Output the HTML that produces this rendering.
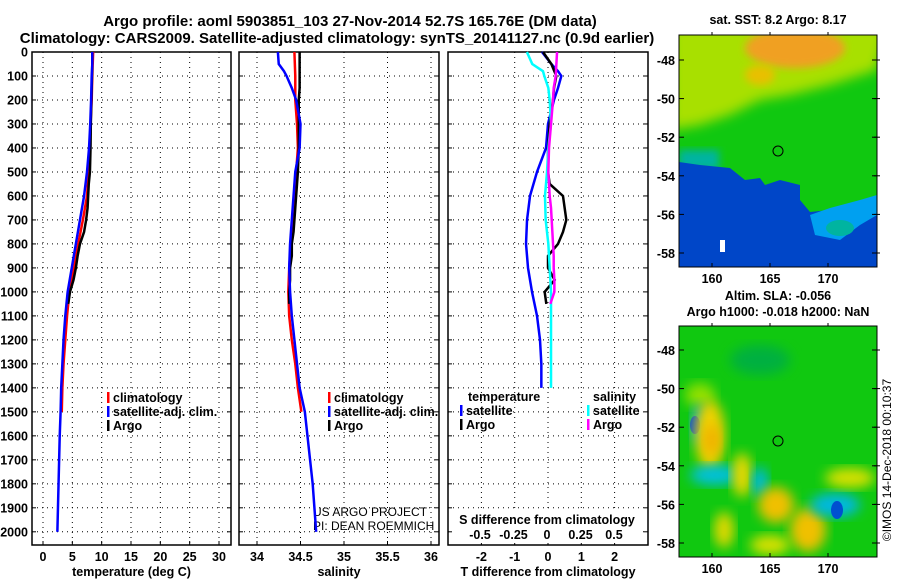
<!DOCTYPE html>
<html><head><meta charset="utf-8"><style>
body{margin:0;background:#fff}
svg{display:block;font-family:"Liberation Sans",sans-serif}
.t{font-weight:bold;font-size:12.5px}
.ti{font-weight:bold;font-size:15px}
.gr{stroke:#000;stroke-width:1;stroke-dasharray:1 4}
</style></head><body>
<svg id="c" width="900" height="580" viewBox="0 0 900 580">
<defs>
<filter id="bl" x="-20%" y="-20%" width="140%" height="140%"><feGaussianBlur stdDeviation="6"/></filter>
<filter id="bl2" x="-20%" y="-20%" width="140%" height="140%"><feGaussianBlur stdDeviation="4"/></filter>
<clipPath id="m1c"><rect x="679" y="35" width="198" height="232"/></clipPath>
<clipPath id="m2c"><rect x="679" y="326" width="198" height="231"/></clipPath>
</defs>
<text class="ti" x="350" y="26" text-anchor="middle">Argo profile: aoml 5903851_103 27-Nov-2014 52.7S 165.76E (DM data)</text>
<text class="ti" x="337" y="43" text-anchor="middle">Climatology: CARS2009. Satellite-adjusted climatology: synTS_20141127.nc (0.9d earlier)</text>

<!-- Map 1 -->
<g>
<g clip-path="url(#m1c)">
<rect x="679" y="35" width="198" height="232" fill="#10c810"/>
<polygon points="670,25 890,25 877,70 830,85 790,95 760,100 730,115 700,125 670,130" fill="#a8e000" filter="url(#bl)"/>
<ellipse cx="795" cy="48" rx="50" ry="20" fill="#f0a020" filter="url(#bl2)"/>
<ellipse cx="760" cy="75" rx="15" ry="10" fill="#e8c000" filter="url(#bl2)"/>
<rect x="679" y="150" width="40" height="20" fill="#00b4a0" filter="url(#bl2)"/>
<polygon points="679,162 700,165 730,168 745,180 760,178 765,185 780,180 800,185 800,200 810,212 830,210 860,205 877,195 877,267 679,267" fill="#0046c8"/>
<polygon points="810,215 830,208 860,200 877,195 877,215 860,225 840,240 815,235" fill="#00a0f0"/>
<ellipse cx="840" cy="228" rx="14" ry="8" fill="#00b4a0"/>
<rect x="720" y="240" width="5" height="12" fill="#fff"/>
<circle cx="778" cy="151" r="5" fill="none" stroke="#000"/>
</g>
<rect x="679" y="35" width="198" height="232" fill="none" stroke="#000"/>
</g>
<text class="t" x="778" y="24" text-anchor="middle" font-size="13">sat. SST: 8.2 Argo: 8.17</text>

<!-- Map 2 -->
<g>
<g clip-path="url(#m2c)">
<rect x="679" y="326" width="198" height="231" fill="#10c810"/>
<ellipse cx="760" cy="360" rx="30" ry="15" fill="#00b040" filter="url(#bl)"/>
<ellipse cx="700" cy="395" rx="15" ry="12" fill="#90e000" filter="url(#bl)"/>
<ellipse cx="700" cy="425" rx="8" ry="20" fill="#00a0f0" filter="url(#bl)"/>
<ellipse cx="695" cy="425" rx="5" ry="9" fill="#0050d0"/>
<ellipse cx="710" cy="435" rx="15" ry="35" fill="#f0d000" filter="url(#bl)"/>
<ellipse cx="712" cy="440" rx="8" ry="15" fill="#f0b000" filter="url(#bl)"/>
<ellipse cx="715" cy="475" rx="25" ry="10" fill="#00c0e0" filter="url(#bl)"/>
<ellipse cx="742" cy="475" rx="10" ry="22" fill="#e8d800" filter="url(#bl)"/>
<ellipse cx="760" cy="482" rx="8" ry="15" fill="#00b8e0" filter="url(#bl)"/>
<ellipse cx="776" cy="505" rx="18" ry="18" fill="#f0c000" filter="url(#bl)"/>
<ellipse cx="808" cy="530" rx="18" ry="22" fill="#f0c000" filter="url(#bl)"/>
<ellipse cx="835" cy="505" rx="25" ry="12" fill="#00b8e0" filter="url(#bl)"/>
<ellipse cx="837" cy="510" rx="6" ry="9" fill="#0050d0"/>
<ellipse cx="850" cy="478" rx="25" ry="10" fill="#d8e000" filter="url(#bl)"/>
<ellipse cx="724" cy="530" rx="10" ry="18" fill="#e0d800" filter="url(#bl)"/>
<ellipse cx="770" cy="545" rx="20" ry="10" fill="#d8e000" filter="url(#bl)"/>
<circle cx="778" cy="441" r="5" fill="none" stroke="#000"/>
</g>
<rect x="679" y="326" width="198" height="231" fill="none" stroke="#000"/>
</g>
<text class="t" x="778" y="300" text-anchor="middle" font-size="13">Altim. SLA: -0.056</text>
<text class="t" x="778" y="316" text-anchor="middle" font-size="13">Argo h1000: -0.018 h2000: NaN</text>
<text x="891" y="460" font-size="12" text-anchor="middle" transform="rotate(-90 891 460)">©IMOS 14-Dec-2018 00:10:37</text>
<text x="313" y="516" font-size="12">US ARGO PROJECT</text>
<text x="313" y="530" font-size="12">PI: DEAN ROEMMICH</text>
</svg>
<script>
const depthTicks=[0,100,200,300,400,500,600,700,800,900,1000,1100,1200,1300,1400,1500,1600,1700,1800,1900,2000];
const tempTicks=[0,5,10,15,20,25,30];
const salTicks=[34,34.5,35,35.5,36];
const tdTicks=[-2,-1,0,1,2];
const sdTicks=[-0.5,-0.25,0,0.25,0.5];
const sdTickLabels=["-0.5","-0.25","0","0.25","0.5"];
const argoDepth=[0,50,100,150,200,300,400,500,550,600,650,700,750,800,850,900,950,1000,1050];
const argoTemp=[8.4,8.4,8.35,8.3,8.25,8.15,8.1,8.0,7.8,7.7,7.6,7.35,7.0,6.3,5.9,5.6,5.2,4.6,4.3];
const argoSal=[34.49,34.49,34.49,34.49,34.48,34.48,34.48,34.47,34.46,34.45,34.44,34.43,34.42,34.4,34.4,34.38,34.38,34.37,34.37];
const argoTdiff=[-0.15,0.1,0.25,0.18,0.15,0.05,0.0,0.0,0.05,0.45,0.5,0.55,0.45,0.3,0.0,0.0,0.2,-0.1,-0.05];
const argoSdiff=[0.075,0.07,0.065,0.05,0.045,0.03,0.015,0.01,0.015,0.02,0.03,0.035,0.04,0.045,0.05,0.05,0.055,0.055,0.025];
const climDepth=[0,100,200,300,400,500,600,700,800,900,1000,1100,1200,1300,1400,1500];
const climTemp=[8.55,8.4,8.3,8.1,8.0,7.8,7.5,6.8,6.0,5.3,4.5,4.1,3.8,3.5,3.3,3.2];
const climSal=[34.43,34.44,34.44,34.46,34.47,34.45,34.43,34.41,34.39,34.37,34.36,34.37,34.4,34.44,34.47,34.51];
const satDepth=[0,50,80,100,150,200,300,400,500,600,700,800,900,1000,1100,1200,1300,1400,1500,1600,1700,1800,1900,2000];
const satTemp=[8.4,8.4,8.35,8.3,8.25,8.2,8.05,7.85,7.5,7.0,6.3,5.6,4.9,4.2,3.8,3.5,3.3,3.1,3.0,2.85,2.75,2.65,2.55,2.45];
const satSal=[34.24,34.25,34.31,34.34,34.4,34.45,34.5,34.49,34.44,34.42,34.4,34.38,34.37,34.38,34.4,34.43,34.46,34.49,34.55,34.58,34.61,34.64,34.66,34.68];
const satTdiff=[-0.18,0.1,0.3,0.4,0.3,0.18,0.0,-0.06,-0.33,-0.54,-0.63,-0.66,-0.6,-0.48,-0.33,-0.24,-0.2,-0.2];
const satSdiff=[-0.15,-0.11,-0.03,-0.02,0.01,0.02,0.03,0.01,0.0,-0.015,-0.01,0.01,0.02,0.03,0.03,0.03,0.03,0.03];
const satDiffDepth=[0,50,80,100,150,200,300,400,500,600,700,800,900,1000,1100,1200,1300,1400];

const NS='http://www.w3.org/2000/svg';
const svg=document.getElementById('c');
const Y0=52, Y1=545, yS=(531.8-52)/2000;
const y=d=>Y0+d*yS;
function mk(tag,a,parent){const e=document.createElementNS(NS,tag);for(const k in a)e.setAttribute(k,a[k]);(parent||svg).appendChild(e);return e;}
function panel(name,x0,x1,fx,ticks,labels,xtitle){
  const g=mk('g',{});
  
  
  depthTicks.forEach(d=>{mk('line',{x1:x0,x2:x1,y1:y(d),y2:y(d),class:'gr'},g);
    mk('line',{x1:x0,x2:x0+4,y1:y(d),y2:y(d),stroke:'#000'},g);mk('line',{x1:x1-4,x2:x1,y1:y(d),y2:y(d),stroke:'#000'},g);});
  ticks.forEach((t,i)=>{const X=fx(t);mk('line',{x1:X,x2:X,y1:Y0,y2:Y1,class:'gr'},g);
    mk('line',{x1:X,x2:X,y1:Y1-4,y2:Y1,stroke:'#000'},g);
    if(labels){const tx=mk('text',{x:X,y:561,'text-anchor':'middle',class:'t'},g);tx.textContent=labels[i];}});
  mk('rect',{x:x0,y:Y0,width:x1-x0,height:Y1-Y0,fill:'none',stroke:'#000','stroke-width':1.5},g);
  if(xtitle){const tt=mk('text',{x:(x0+x1)/2,y:576,'text-anchor':'middle',class:'t'},g);tt.textContent=xtitle;}
  return g;
}
function line(g,name,xs,ds,fx,col){
  const p=mk('polyline',{points:xs.map((v,i)=>fx(v)+','+y(ds[i])).join(' '),fill:'none',stroke:col,'stroke-width':2.5},g);
  
  
}
depthTicks.forEach(d=>{const t=mk('text',{x:28,y:y(d)+4.5,'text-anchor':'end',class:'t'});t.textContent=d;
  
  });
const fT=v=>43+v*(176/30);
const g1=panel('temperature-panel',32,231,fT,tempTicks,tempTicks.map(String),'temperature (deg C)');
line(g1,'temp-climatology-line',climTemp,climDepth,fT,'#f00');
line(g1,'temp-argo-line',argoTemp,argoDepth,fT,'#000');
line(g1,'temp-satellite-line',satTemp,satDepth,fT,'#00f');
const fS=v=>257+(v-34)*87;
const g2=panel('salinity-panel',239,439,fS,salTicks,salTicks.map(String),'salinity');
line(g2,'sal-climatology-line',climSal,climDepth,fS,'#f00');
line(g2,'sal-argo-line',argoSal,argoDepth,fS,'#000');
line(g2,'sal-satellite-line',satSal,satDepth,fS,'#00f');
const fD=v=>548+v*33.3;
const fSD=v=>547+v*134;
const g3=panel('difference-panel',448,648,fD,tdTicks,tdTicks.map(String),'T difference from climatology');
line(g3,'tdiff-satellite-line',satTdiff,satDiffDepth,fD,'#00f');
line(g3,'tdiff-argo-line',argoTdiff,argoDepth,fD,'#000');
line(g3,'sdiff-satellite-line',satSdiff,satDiffDepth,fSD,'#0ff');
line(g3,'sdiff-argo-line',argoSdiff,argoDepth,fSD,'#f0f');
mk('rect',{x:452,y:509,width:190,height:34,fill:'#fff'},g3);
const st=mk('text',{x:547,y:524,'text-anchor':'middle',class:'t'},g3);st.textContent='S difference from climatology';
sdTicks.forEach((v,i)=>{const t=mk('text',{x:fSD(v),y:539,'text-anchor':'middle',class:'t'},g3);t.textContent=sdTickLabels[i];});
function leg(x,yy,col,label,name){const g=mk('g',{});
  
  
  if(col)mk('rect',{x:x,y:yy-10,width:2.5,height:11,fill:col},g);
  const t=mk('text',{x:x+(col?6:0),y:yy,class:'t'},g);t.textContent=label;}
leg(107,402,'#f00','climatology','legend-climatology');
leg(107,416,'#00f','satellite-adj. clim.','legend-satellite');
leg(107,430,'#000','Argo','legend-argo');
leg(328,402,'#f00','climatology','legend-climatology-sal');
leg(328,416,'#00f','satellite-adj. clim.','legend-satellite-sal');
leg(328,430,'#000','Argo','legend-argo-sal');
leg(468,401,null,'temperature','legend-temperature-heading');
leg(460,415,'#00f','satellite','legend-tdiff-satellite');
leg(460,429,'#000','Argo','legend-tdiff-argo');
leg(593,401,null,'salinity','legend-salinity-heading');
leg(587,415,'#0ff','satellite','legend-sdiff-satellite');
leg(587,429,'#f0f','Argo','legend-sdiff-argo');
const lats=[-48,-50,-52,-54,-56,-58], lons=[160,165,170];
function mapAxes(top,bot,latY0,name){
  const g=mk('g',{});
  
  
  lats.forEach(l=>{const Y=latY0+(-48-l)*19.3;
    mk('line',{x1:679,x2:684,y1:Y,y2:Y,stroke:'#000'},g);mk('line',{x1:872,x2:877,y1:Y,y2:Y,stroke:'#000'},g);
    mk('line',{x1:874,x2:880,y1:Y,y2:Y,stroke:'#000'},g);
    const t=mk('text',{x:675,y:Y+5,'text-anchor':'end',class:'t','font-size':13},g);t.textContent=l;});
  lons.forEach(l=>{const X=712+(l-160)*11.6;
    mk('line',{x1:X,x2:X,y1:top-3,y2:top,stroke:'#000'},g);mk('line',{x1:X,x2:X,y1:bot-4,y2:bot,stroke:'#000'},g);
    const t=mk('text',{x:X,y:bot+16,'text-anchor':'middle',class:'t','font-size':13},g);t.textContent=l;});
}
mapAxes(35,267,60,'sst-map-axes');
mapAxes(326,557,350,'sla-map-axes');
</script>
</body></html>
